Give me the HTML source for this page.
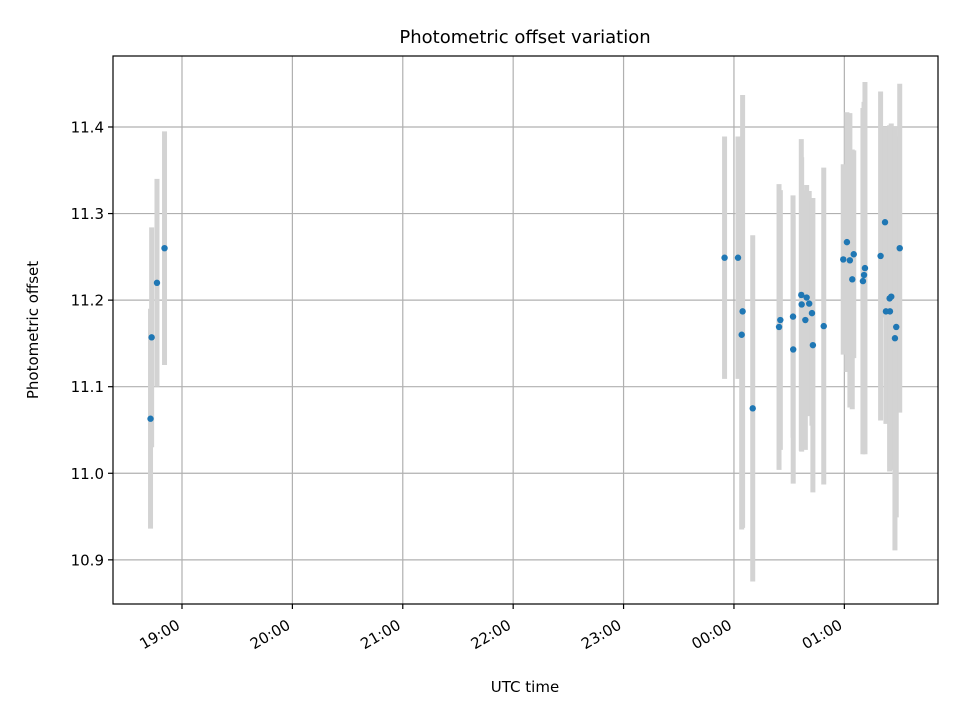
<!DOCTYPE html>
<html><head><meta charset="utf-8"><style>
body{margin:0;background:#fff;}
svg text{font-family:"DejaVu Sans","Liberation Sans",sans-serif;fill:#000;}
</style></head><body>
<svg id="chart" width="960" height="720" xmlns="http://www.w3.org/2000/svg">
<rect x="0" y="0" width="960" height="720" fill="#fff"/>
<g id="grid"></g>
<g id="errs"></g>
<g id="pts"></g>
<rect x="113" y="56" width="825" height="548" fill="none" stroke="#000" stroke-width="1.2"/>
<g id="xt"></g>
<g id="yt"></g>
<text x="525" y="43" text-anchor="middle" font-size="18">Photometric offset variation</text>
<text x="525" y="692" text-anchor="middle" font-size="15">UTC time</text>
<text transform="translate(38,330) rotate(-90)" text-anchor="middle" font-size="15">Photometric offset</text>
</svg>
<script>
// minutes since 19:00 UTC
const times=[-17.1,-16.5,-13.6,-9.5,294.9,302.2,304.7,304.2,310.2,324.5,325.2,332.1,332.2,336.6,336.8,339.5,340.9,338.8,342.4,342.9,348.8,361.4,359.4,363.0,365.1,364.3,371.2,370.7,370.1,379.7,382.1,390.1,384.6,385.5,382.6,384.8,388.2,387.5];
const offsets=[11.063,11.157,11.22,11.26,11.249,11.249,11.187,11.16,11.075,11.169,11.177,11.181,11.143,11.206,11.195,11.203,11.196,11.177,11.185,11.148,11.17,11.267,11.247,11.246,11.253,11.224,11.237,11.229,11.222,11.251,11.29,11.26,11.202,11.204,11.187,11.187,11.169,11.156];
const errors=[0.127,0.127,0.12,0.135,0.14,0.14,0.25,0.225,0.2,0.165,0.15,0.14,0.155,0.18,0.17,0.13,0.13,0.15,0.13,0.17,0.183,0.15,0.11,0.17,0.12,0.15,0.215,0.2,0.2,0.19,0.11,0.19,0.2,0.2,0.13,0.18,0.22,0.245];
const xTickVals=[0,60,120,180,240,300,360];
const xTickLabels=["19:00","20:00","21:00","22:00","23:00","00:00","01:00"];
const yTickVals=[10.9,11.0,11.1,11.2,11.3,11.4];
const yTickLabels=["10.9","11.0","11.1","11.2","11.3","11.4"];
const L=113,R=938,T=56,B=604,xmin=-37.5,xmax=410.9,ymin=10.849,ymax=11.482;
const X=v=>L+(v-xmin)/(xmax-xmin)*(R-L);
const Y=v=>B-(v-ymin)/(ymax-ymin)*(B-T);
const NS="http://www.w3.org/2000/svg";
function mk(tag,attrs,parent){const e=document.createElementNS(NS,tag);for(const k in attrs)e.setAttribute(k,attrs[k]);document.getElementById(parent).appendChild(e);return e;}
xTickVals.forEach((v,i)=>{const x=X(v);
 const g=mk('line',{x1:x,x2:x,y1:T,y2:B,stroke:'#b0b0b0','stroke-width':1.2},'grid');
 
 const t=mk('line',{x1:x,x2:x,y1:B,y2:B+5,stroke:'#000','stroke-width':1.2},'xt');
 
 const tx=mk('text',{'text-anchor':'end','font-size':15,transform:`translate(${x-1},${B+24}) rotate(-30)`},'xt');
 tx.textContent=xTickLabels[i];
 
});
yTickVals.forEach((v,i)=>{const y=Y(v);
 const g=mk('line',{x1:L,x2:R,y1:y,y2:y,stroke:'#b0b0b0','stroke-width':1.2},'grid');
 
 const t=mk('line',{x1:L-5,x2:L,y1:y,y2:y,stroke:'#000','stroke-width':1.2},'yt');
 
 const tx=mk('text',{x:L-9,y:y+5.5,'text-anchor':'end','font-size':15},'yt');
 tx.textContent=yTickLabels[i];
 
});
times.forEach((t,i)=>{const x=X(t);
 const e=mk('line',{x1:x,x2:x,y1:Y(offsets[i]+errors[i]),y2:Y(offsets[i]-errors[i]),stroke:'#d3d3d3','stroke-width':5},'errs');
 
});
times.forEach((t,i)=>{
 const c=mk('circle',{cx:X(t),cy:Y(offsets[i]),r:3.2,fill:'#1f77b4'},'pts');
 
});
</script>
</body></html>
